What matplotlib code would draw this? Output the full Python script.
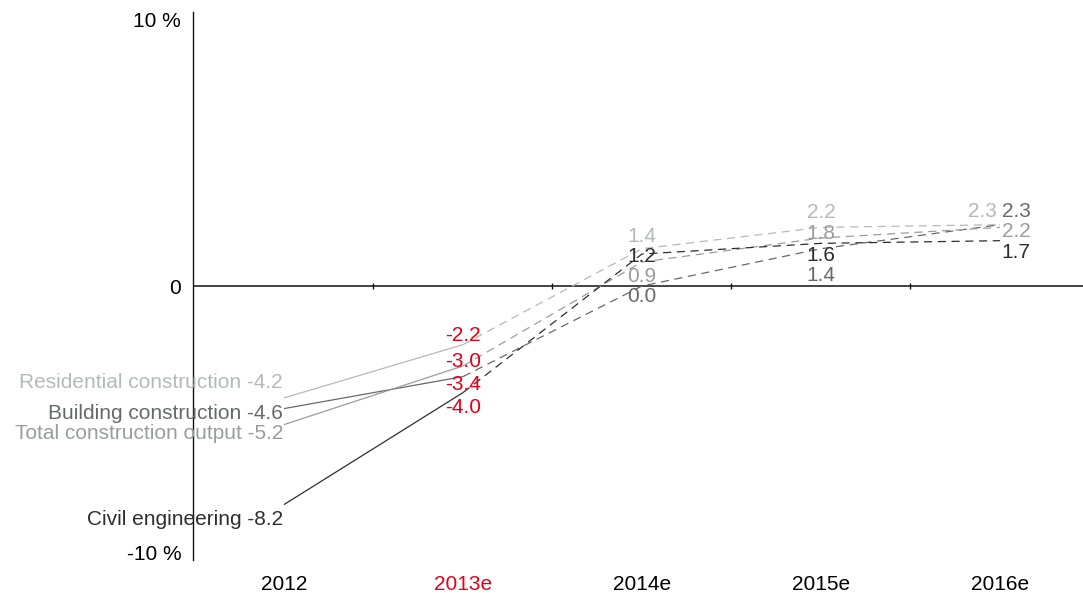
import matplotlib
matplotlib.use("Agg")
import matplotlib.pyplot as plt
import numpy as np

plt.rcParams['font.family'] = ['Liberation Sans', 'DejaVu Sans']

years = ["2012", "2013e", "2014e", "2015e", "2016e"]
series_names = ["Residential construction", "Building construction",
                "Total construction output", "Civil engineering"]
residential = [-4.2, -2.2, 1.4, 2.2, 2.3]
building = [-4.6, -3.4, 0.0, 1.4, 2.3]
total = [-5.2, -3.0, 0.9, 1.8, 2.2]
civil = [-8.2, -4.0, 1.2, 1.6, 1.7]
series_values = [residential, building, total, civil]

colors = ["#b3babd", "#66696b", "#999da0", "#2e2e2e"]
red = "#e2001a"

# label offsets in pixels (dx, dy) per series per year (layout only)
label_offsets_px = [
    [(-1, 15), (0, 9.6), (0, 12), (0, 15), (-18, 12.7)],
    [(-1, -4.4), (0, -7.4), (0, -11), (0, -27), (16, 12.7)],
    [(-1, -9.4), (0, 4), (0, -14), (0, 5), (16, -4.6)],
    [(-1, -14.5), (0, -14.4), (0, -2), (0, -12.6), (16, -12.3)],
]

W, H = 1083, 593
fig = plt.figure(figsize=(W / 100, H / 100), dpi=100)
ax = fig.add_axes([193 / W, 33 / H, 1 - 193 / W, 1 - 45 / H])

x = np.arange(len(years))
fs = 15
px2pt = 72 / 100

for vals, col, name, offs in zip(series_values, colors, series_names, label_offsets_px):
    ax.plot(x[:2], vals[:2], color=col, lw=0.9, solid_capstyle='butt')
    ax.plot(x[1:], vals[1:], color=col, lw=0.9, linestyle=(0, (6.5, 4.5)))
    for i, v in enumerate(vals):
        dx, dy = offs[i]
        if i == 0:
            txt = f"{name} {v:.1f}"
            ha = 'right'
            tcol = col
        else:
            txt = f"{v:.1f}"
            ha = 'center'
            tcol = red if i == 1 else col
        ax.annotate(txt, (x[i], v), xytext=(dx * px2pt, dy * px2pt),
                    textcoords='offset points', ha=ha, va='center',
                    color=tcol, fontsize=fs)

ax.axhline(0, color='#111111', lw=1.1, zorder=1)
mids = x[:-1] + 0.5
ax.plot(mids, np.zeros_like(mids), linestyle='none', marker='|',
        markersize=4, color='#111111', markeredgewidth=1)

ax.set_xlim(-0.5084, 4.464)
ax.set_ylim(-10.28, 10.28)

for s in ['top', 'right', 'bottom']:
    ax.spines[s].set_visible(False)
ax.spines['left'].set_color('#111111')
ax.spines['left'].set_linewidth(1.0)

ax.set_xticks(x)
ax.set_xticklabels(years, fontsize=fs)
for lbl, yr in zip(ax.get_xticklabels(), years):
    if yr == "2013e":
        lbl.set_color(red)
ax.tick_params(axis='x', length=0, pad=10.5)

ax.set_yticks([-10, 0, 10])
ax.set_yticklabels(["-10 %", "0", "10 %"], fontsize=fs)
ax.tick_params(axis='y', length=0, pad=8.5)

fig.savefig("out.png", dpi=100)
